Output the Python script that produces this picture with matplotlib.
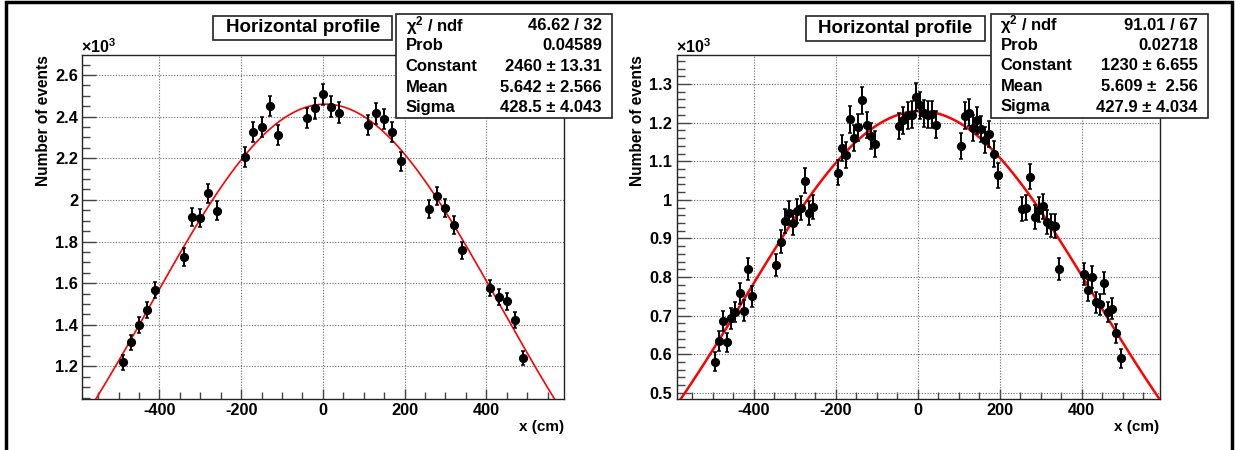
import numpy as np
import matplotlib
matplotlib.use("Agg")
import matplotlib.pyplot as plt
from matplotlib.patches import Rectangle
from matplotlib.ticker import MultipleLocator, FuncFormatter

plt.rcParams['font.family'] = ['Liberation Sans', 'DejaVu Sans']
plt.rcParams['font.weight'] = 'bold'
plt.rcParams['axes.unicode_minus'] = False
plt.rcParams['mathtext.fontset'] = 'custom'
plt.rcParams['mathtext.rm'] = 'Liberation Sans:bold'
plt.rcParams['mathtext.bf'] = 'Liberation Sans:bold'
plt.rcParams['mathtext.it'] = 'Liberation Sans:bold'
plt.rcParams['mathtext.default'] = 'rm'

# ---------------- data ----------------
left_x = [-490, -470, -450, -430, -410, -340, -320, -300, -280, -260,
          -190, -170, -150, -130, -110, -40, -20, 0, 20, 40,
          110, 130, 150, 170, 190, 260, 280, 300, 320, 340,
          410, 430, 450, 470, 490]
left_counts = [1219, 1315, 1399, 1469, 1568, 1725, 1917, 1912, 2032, 1949,
               2205, 2328, 2349, 2451, 2310, 2392, 2440, 2508, 2448, 2419,
               2361, 2415, 2389, 2325, 2185, 1956, 2018, 1962, 1881, 1757,
               1576, 1534, 1512, 1424, 1240]

right_x = [-495, -485, -475, -465, -455, -445, -435, -425, -415, -405,
           -345, -335, -325, -315, -305, -295, -285, -275, -265, -255,
           -195, -185, -175, -165, -155, -145, -135, -125, -115, -105,
           -45, -35, -25, -15, -5, 5, 15, 25, 35, 45,
           105, 115, 125, 135, 145, 155, 165, 175, 185, 195,
           255, 265, 275, 285, 295, 305, 315, 325, 335, 345,
           405, 415, 425, 435, 445, 455, 465, 475, 485, 495]
right_counts = [581, 635, 687, 631, 693, 710, 758, 713, 820, 750,
                831, 891, 946, 966, 940, 972, 979, 1050, 966, 981,
                1070, 1135, 1117, 1209, 1161, 1188, 1258, 1194, 1165, 1145,
                1191, 1206, 1219, 1220, 1266, 1245, 1224, 1220, 1222, 1195,
                1140, 1218, 1226, 1186, 1206, 1184, 1155, 1170, 1118, 1064,
                977, 980, 1060, 955, 975, 983, 942, 934, 933, 822,
                809, 767, 801, 735, 730, 784, 709, 718, 654, 590]

# Gaussian fit parameters (from the stat boxes)
left_constant, left_mean, left_sigma = 2460.0, 5.642, 428.5
right_constant, right_mean, right_sigma = 1230.0, 5.609, 427.9

stat_labels = ["χ$^{2}$ / ndf", "Prob", "Constant", "Mean", "Sigma"]
left_stat_values = ["46.62 / 32", "0.04589", "2460 ± 13.31", "5.642 ± 2.566", "428.5 ± 4.043"]
right_stat_values = ["91.01 / 67", "0.02718", "1230 ± 6.655", "5.609 ±  2.56", "427.9 ± 4.034"]

title_text = "Horizontal profile"
x_title = "x (cm)"
y_title = "Number of events"
exponent_text = "×10$^{3}$"

# ---------------- figure ----------------
W, H = 1236, 450
fig = plt.figure(figsize=(W / 100, H / 100), dpi=100)


def fx(px):
    return px / W


def fy(py):
    return 1 - py / H


def box(x0, y0, x1, y1, lw=1.2):
    r = Rectangle((fx(x0), fy(y1)), fx(x1) - fx(x0), fy(y0) - fy(y1),
                  transform=fig.transFigure, fc='white', ec='#222222', lw=lw, zorder=5)
    fig.add_artist(r)


def panel(ax_px, xs, counts, C, mu, sig, ylim, ymaj, ymin, curve_lw,
          title_px, stat_px, stat_values, ylab_x):
    x0, y0, x1, y1 = ax_px
    ax = fig.add_axes([fx(x0), fy(y1), fx(x1) - fx(x0), fy(y0) - fy(y1)])
    xs = np.asarray(xs, float)
    cnt = np.asarray(counts, float)
    err = np.sqrt(cnt)
    ax.errorbar(xs, cnt, yerr=err, fmt='o', color='black', ms=5.6,
                elinewidth=1.4, capsize=1.6, capthick=1.1, zorder=4)
    xf = np.linspace(-590, 590, 800)
    ax.plot(xf, C * np.exp(-0.5 * ((xf - mu) / sig) ** 2), color='#ff0000',
            lw=curve_lw, zorder=3)
    ax.set_xlim(-589, 590)
    ax.set_ylim(*ylim)
    ax.xaxis.set_major_locator(MultipleLocator(200))
    ax.xaxis.set_minor_locator(MultipleLocator(50))
    ax.yaxis.set_major_locator(MultipleLocator(ymaj))
    ax.yaxis.set_minor_locator(MultipleLocator(ymin))
    ax.yaxis.set_major_formatter(FuncFormatter(lambda v, p: f"{v / 1000:g}"))
    ax.xaxis.set_major_formatter(FuncFormatter(lambda v, p: f"{v:g}"))
    ax.grid(True, which='major', color='#666666', lw=0.8, ls=(0, (1, 1.5)))
    ax.set_axisbelow(True)
    ax.tick_params(axis='y', which='major', direction='in', length=10, width=1,
                   color='#444444', pad=3, labelsize=11.8)
    ax.tick_params(axis='y', which='minor', direction='in', length=5.5, width=1,
                   color='#444444')
    ax.tick_params(axis='x', which='major', direction='in', length=7, width=1,
                   color='#444444', pad=3.5, labelsize=11.8)
    ax.tick_params(axis='x', which='minor', direction='in', length=4.8, width=1,
                   color='#444444')
    for lab in ax.get_xticklabels() + ax.get_yticklabels():
        lab.set_fontweight('bold')
    for s in ax.spines.values():
        s.set_color('#222222')
        s.set_linewidth(1.0)

    # exponent label
    fig.text(fx(x0 - 1), fy(47), exponent_text, fontsize=11.5,
             ha='left', va='center')
    # axis titles
    fig.text(fx(ylab_x), fy(y0), y_title, rotation=90, ha='center', va='top',
             fontsize=11.2, fontweight='bold')
    fig.text(fx(x1), fy(427), x_title, ha='right', va='center', fontsize=11,
             fontweight='bold')

    # title box
    tx0, ty0, tx1, ty1 = title_px
    box(tx0, ty0, tx1, ty1)
    fig.text(fx((tx0 + tx1) / 2), fy((ty0 + ty1) / 2), title_text, ha='center',
             va='center', fontsize=13.5, fontweight='bold', zorder=6)

    # stat box
    sx0, sy0, sx1, sy1 = stat_px
    box(sx0, sy0, sx1, sy1)
    for i, (lab, val) in enumerate(zip(stat_labels, stat_values)):
        yy = fy(sy0 + 11.5 + 20.5 * i)
        fig.text(fx(sx0 + 10), yy, lab, ha='left', va='center', fontsize=12,
                 fontweight='bold', zorder=6)
        fig.text(fx(sx1 - 10), yy, val, ha='right', va='center', fontsize=12,
                 fontweight='bold', zorder=6)
    return ax


panel((82.2, 55, 564, 398.5), left_x, left_counts, left_constant, left_mean,
      left_sigma, (1046, 2696), 200, 50, 1.2,
      (213.5, 15.5, 392, 40), (395.5, 14, 612, 117.5), left_stat_values, 43.5)

panel((676.5, 55, 1159.5, 398.5), right_x, right_counts, right_constant,
      right_mean, right_sigma, (485.5, 1375.2), 100, 20, 1.8,
      (805.5, 16, 985, 41), (990.5, 13.5, 1208, 117.5), right_stat_values, 637.8)

# outer canvas border
border = Rectangle((fx(6), -0.05), fx(1232) - fx(6), fy(1.5) + 0.05,
                   transform=fig.transFigure, fc='none', ec='black', lw=2.5,
                   zorder=10)
fig.add_artist(border)

fig.savefig("out.png", dpi=100, facecolor='white')
